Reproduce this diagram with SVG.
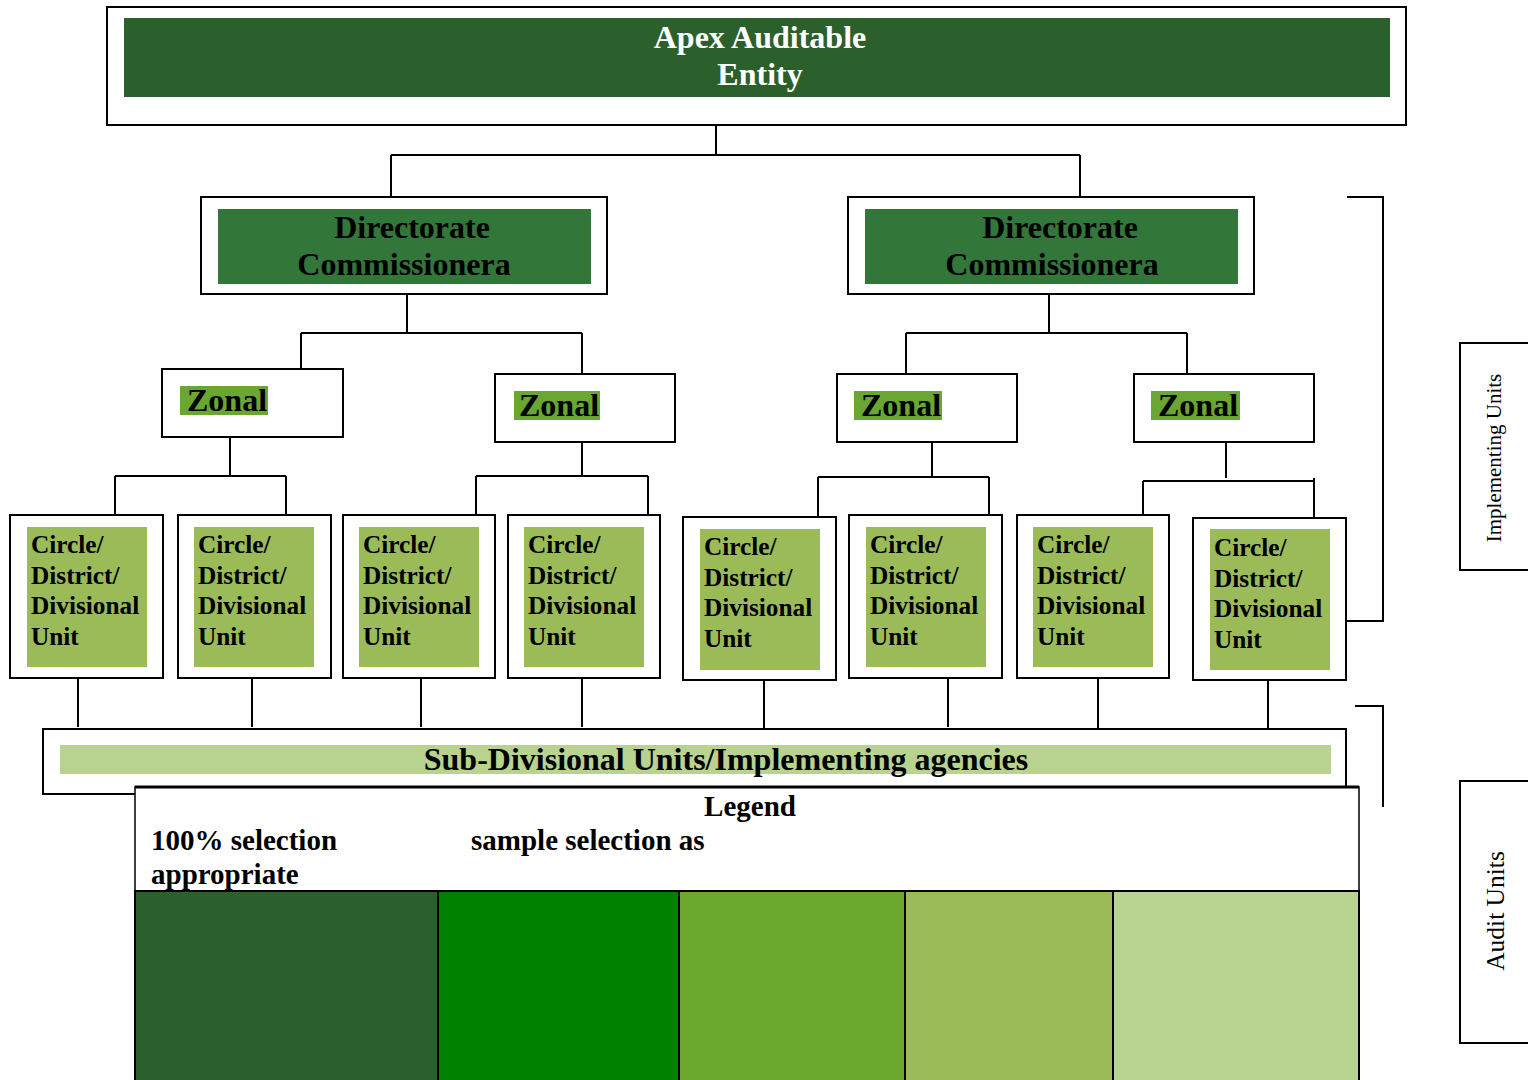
<svg xmlns="http://www.w3.org/2000/svg" width="1528" height="1080" viewBox="0 0 1528 1080">
<style>
.box{fill:#fff;stroke:#000;stroke-width:2}
.ln{fill:none;stroke:#000;stroke-width:2}
.t{font-family:"Liberation Serif","Times New Roman",serif;font-weight:bold}
.big{font-size:32px}
.cu{font-size:25.3px;fill:#000}
.lg{font-size:29px;fill:#000}
.side{font-family:"Liberation Serif","Times New Roman",serif;fill:#000}
.cg{fill:#9bbb59}
.zg{fill:#6aa632}
</style>
<rect width="1528" height="1080" fill="#fff"/>
<g id="connectors">
<path class="ln" d="M716 125V155M391 155H1080M391 155V198M1080 155V198"/>
<path class="ln" d="M407 294V333M301 333H582M301 333V370M582 333V375"/>
<path class="ln" d="M1049 294V330M906 333H1187M906 333V375M1187 333V375M1049 330V333"/>
<path class="ln" d="M230 437V476M115 476H286M115 476V515M286 476V515"/>
<path class="ln" d="M582 442V476M476 476H648M476 476V515M648 476V515"/>
<path class="ln" d="M932 442V477M818 477H989M818 477V517M989 477V515"/>
<path class="ln" d="M1226 442V478M1143 481H1314M1143 481V515M1314 478V518"/>
<path class="ln" d="M78 678V727M252 678V727M421 678V727M582 678V727M764 680V729M948 678V727M1098 678V728M1268 680V729"/>
<path class="ln" d="M1347 197H1383V621H1347M1355 706H1383V807"/>
</g>
<g id="apex">
<rect class="box" x="107" y="7" width="1299" height="118"/>
<rect x="124" y="18" width="1266" height="79" fill="#2b5f2b"/>
<text class="t big" fill="#fff" text-anchor="middle" x="760" y="48">Apex Auditable</text>
<text class="t big" fill="#fff" text-anchor="middle" x="760" y="85">Entity</text>
</g>
<g id="dir1">
<rect class="box" x="201" y="197" width="406" height="97"/>
<rect x="218" y="209" width="373" height="75" fill="#33763a"/>
<text class="t big" text-anchor="middle" x="412" y="238">Directorate</text>
<text class="t big" text-anchor="middle" x="404" y="275">Commissionera</text>
</g>
<g id="dir2">
<rect class="box" x="848" y="197" width="406" height="97"/>
<rect x="865" y="209" width="373" height="75" fill="#33763a"/>
<text class="t big" text-anchor="middle" x="1060" y="238">Directorate</text>
<text class="t big" text-anchor="middle" x="1052" y="275">Commissionera</text>
</g>
<g id="zonal1">
<rect class="box" x="162" y="369" width="181" height="68"/>
<rect class="zg" x="180" y="386" width="88" height="29"/>
<text class="t big" x="187" y="411">Zonal</text>
</g>
<g id="zonal2">
<rect class="box" x="495" y="374" width="180" height="68"/>
<rect class="zg" x="514" y="391" width="86" height="29"/>
<text class="t big" x="519" y="416">Zonal</text>
</g>
<g id="zonal3">
<rect class="box" x="837" y="374" width="180" height="68"/>
<rect class="zg" x="854" y="391" width="88" height="29"/>
<text class="t big" x="861" y="416">Zonal</text>
</g>
<g id="zonal4">
<rect class="box" x="1134" y="374" width="180" height="68"/>
<rect class="zg" x="1151" y="391" width="89" height="29"/>
<text class="t big" x="1158" y="416">Zonal</text>
</g>
<defs>
<g id="cutext">
<text class="t cu"><tspan x="0" y="0">Circle/</tspan><tspan x="0" y="30.5">District/</tspan><tspan x="0" y="61">Divisional</tspan><tspan x="0" y="91.5">Unit</tspan></text>
</g>
</defs>
<g id="cu1"><rect class="box" x="10" y="515" width="153" height="163"/><rect class="cg" x="27" y="527" width="120" height="140"/><use href="#cutext" x="31" y="553"/></g>
<g id="cu2"><rect class="box" x="178" y="515" width="153" height="163"/><rect class="cg" x="194" y="527" width="120" height="140"/><use href="#cutext" x="198" y="553"/></g>
<g id="cu3"><rect class="box" x="343" y="515" width="152" height="163"/><rect class="cg" x="359" y="527" width="120" height="140"/><use href="#cutext" x="363" y="553"/></g>
<g id="cu4"><rect class="box" x="508" y="515" width="152" height="163"/><rect class="cg" x="524" y="527" width="120" height="140"/><use href="#cutext" x="528" y="553"/></g>
<g id="cu5"><rect class="box" x="683" y="517" width="153" height="163"/><rect class="cg" x="700" y="529" width="120" height="141"/><use href="#cutext" x="704" y="555"/></g>
<g id="cu6"><rect class="box" x="849" y="515" width="153" height="163"/><rect class="cg" x="866" y="527" width="120" height="140"/><use href="#cutext" x="870" y="553"/></g>
<g id="cu7"><rect class="box" x="1017" y="515" width="152" height="163"/><rect class="cg" x="1033" y="527" width="120" height="140"/><use href="#cutext" x="1037" y="553"/></g>
<g id="cu8"><rect class="box" x="1193" y="518" width="153" height="162"/><rect class="cg" x="1210" y="529" width="120" height="141"/><use href="#cutext" x="1214" y="556"/></g>
<g id="subdiv">
<rect class="box" x="43" y="729" width="1303" height="65"/>
<rect x="60" y="745" width="1271" height="29" fill="#b8d28f"/>
<text class="t" font-size="32" text-anchor="middle" x="726" y="770">Sub-Divisional Units/Implementing agencies</text>
</g>
<g id="legend">
<rect x="135" y="787" width="1224" height="300" fill="#fff" stroke="#000" stroke-width="1.5"/>
<line x1="135" y1="787" x2="1359" y2="787" stroke="#000" stroke-width="3"/>
<text class="t lg" text-anchor="middle" x="750" y="816">Legend</text>
<text class="t lg" x="151" y="850">100% selection</text>
<text class="t lg" x="151" y="884">appropriate</text>
<text class="t lg" x="471" y="850">sample selection as</text>
<g stroke="#000" stroke-width="2">
<rect x="135" y="891" width="303" height="195" fill="#2b5f2b"/>
<rect x="438" y="891" width="241" height="195" fill="#008000"/>
<rect x="679" y="891" width="226" height="195" fill="#6ca72e"/>
<rect x="905" y="891" width="208" height="195" fill="#9bbb59"/>
<rect x="1113" y="891" width="246" height="195" fill="#b8d290"/>
</g>
</g>
<g id="implementing">
<rect class="box" x="1460" y="343" width="70" height="227"/>
<text class="side" style="font-size:21px" text-anchor="middle" transform="translate(1501 458) rotate(-90)">Implementing Units</text>
</g>
<g id="audit">
<rect class="box" x="1460" y="781" width="70" height="262"/>
<text class="side" style="font-size:25.5px" text-anchor="middle" transform="translate(1504 911) rotate(-90)">Audit Units</text>
</g>
</svg>
